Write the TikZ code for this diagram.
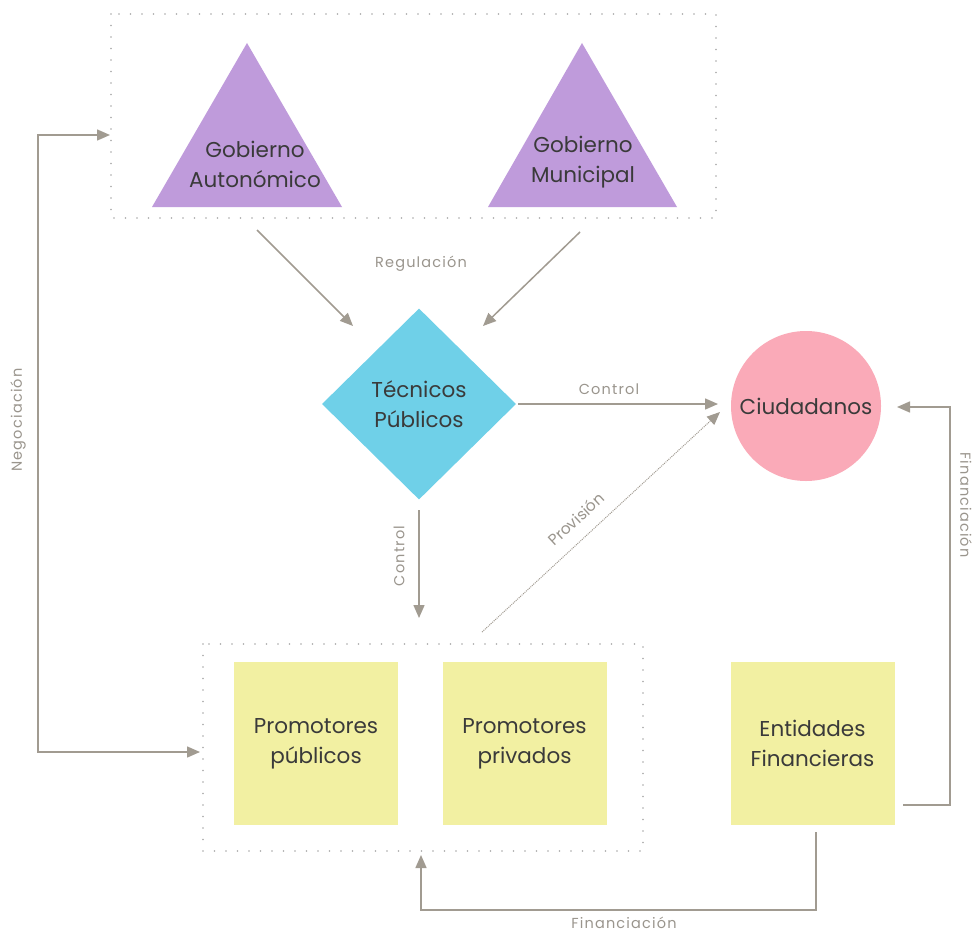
\documentclass[tikz,border=0pt]{standalone}
\usepackage{fontspec}
\setmainfont{Poppins}
\newfontfamily\lblfont[LetterSpace=8]{Poppins}
\usetikzlibrary{shapes.geometric,arrows.meta,calc}
\definecolor{govpurple}{HTML}{BF9BDB}
\definecolor{tecblue}{HTML}{6FD0E8}
\definecolor{citpink}{HTML}{FAAAB8}
\definecolor{promyellow}{HTML}{F2F0A2}
\definecolor{linegray}{HTML}{A19B91}
\definecolor{dotgray}{HTML}{A8A8A8}
\definecolor{txtdark}{HTML}{3A3A3A}
\definecolor{lblgray}{HTML}{9A958D}
\tikzset{
  arr/.style={draw=linegray, line width=1.5pt, -{Triangle[length=13pt,width=11pt]}, color=linegray},
  grp/.style={draw=dotgray, line width=1.6pt, dash pattern=on 0pt off 11.5pt, line cap=round},
  ytxt/.style={text=txtdark, font=\fontsize{21.5}{30}\selectfont, align=center},
  promo/.style={fill=promyellow, minimum width=164pt, minimum height=163pt, inner sep=0pt, ytxt},
  lbl/.style={text=lblgray, font=\lblfont\fontsize{14.5}{16}\selectfont, inner sep=0pt},
  slantlbl/.style={text=lblgray, font=\fontsize{15.5}{17}\selectfont, inner sep=0pt},
}
\begin{document}
\begin{tikzpicture}[x=1pt,y=-1pt]
\useasboundingbox (0,0) rectangle (976,934);
\fill[white] (0,0) rectangle (976,934);

% government level
\draw[grp] (111,14) rectangle (716,218);
\fill[govpurple] (247,43) -- (342,207) -- (152,207) -- cycle;
\fill[govpurple] (582,43) -- (677,207) -- (488,207) -- cycle;
\node[ytxt] (gauto) at (255,164) {Gobierno\\Autonómico};
\node[ytxt] (gmuni) at (583,162) {Gobierno\\Municipal};

% technicians and citizens
\node[diamond, fill=tecblue, minimum width=194pt, minimum height=191pt, inner sep=0pt, ytxt] (tec) at (419,404) {Técnicos\\Públicos};
\node[circle, fill=citpink, minimum size=150pt, inner sep=0pt, ytxt] (ciu) at (806,406) {Ciudadanos};

% promoters and financial bodies
\draw[grp] (203,644) rectangle (643,851);
\node[promo] (ppub) at (316,743.5) {Promotores\\públicos};
\node[promo] (ppri) at (524.5,743.5) {Promotores\\privados};
\node[promo] (ent) at (812.5,743.5) {Entidades\\Financieras};

% anchor points for the connectors
\coordinate (gaOut) at (257,230);
\coordinate (gmOut) at (580,232);
\coordinate (tecInL) at (353,326);
\coordinate (tecInR) at (483,326);
\coordinate (tecE) at (518,404);
\coordinate (ciuW) at (718,404);
\coordinate (tecS) at (419,510);
\coordinate (promN) at (419,618);
\coordinate (provA) at (482,632);
\coordinate (provB) at (720,412);
\coordinate (govW) at (110,135);
\coordinate (promW) at (200,752);
\coordinate (entE) at (903,805);
\coordinate (ciuE) at (897,407);
\coordinate (entS) at (816,832);
\coordinate (promS) at (421,855);

% regulation
\draw[arr] (gaOut) -- (tecInL);
\draw[arr] (gmOut) -- (tecInR);
\node[lbl] (lreg) at (421,264) {Regulación};

% control
\draw[arr] (tecE) -- (ciuW);
\node[lbl] (lctl1) at (609,389) {Control};
\draw[arr] (tecS) -- (promN);
\node[lbl, rotate=90] (lctl2) at (399,556) {Control};

% provision
\draw[arr, line width=1pt, densely dotted] (provA) -- (provB);
\node[slantlbl, rotate=42.7] (lprov) at (576,519) {Provisión};

% negotiation
\draw[arr, {Triangle[length=13pt,width=11pt]}-{Triangle[length=13pt,width=11pt]}] (govW) -- (38,135) -- (38,752) -- (promW);
\node[lbl, rotate=90] (lneg) at (18,420) {Negociación};

% financing
\draw[arr] (entE) -- (950,805) -- (950,407) -- (ciuE);
\node[lbl, rotate=-90] (lfin1) at (966,505) {Financiación};
\draw[arr] (entS) -- (816,910) -- (421,910) -- (promS);
\node[lbl] (lfin2) at (624,923) {Financiación};
\end{tikzpicture}
\end{document}
